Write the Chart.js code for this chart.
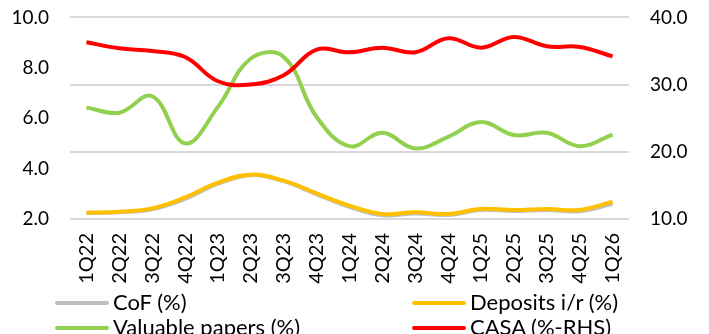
<!DOCTYPE html>
<html lang="en">
<head>
    <meta charset="UTF-8">
    <title>CoF, deposits, valuable papers and CASA</title>
    <script src="https://cdn.jsdelivr.net/npm/chart.js"></script>
    <style>
        body { margin: 0; background: #fff; font-family: 'Lato', sans-serif; }
        .wrap { position: relative; width: 709px; height: 334px; overflow: hidden; }
        #chart { position: absolute; left: 0; top: -15px; }
        .legend { position: absolute; left: 0; top: 289px; width: 709px; font-size: 22px; color: #000; }
        .item { position: absolute; height: 25px; line-height: 25px; white-space: nowrap; }
        .item span { display: inline-block; width: 54px; height: 4px; border-radius: 2px; vertical-align: middle; margin-right: 4px; position: relative; top: -1px; }
    </style>
</head>
<body>
<div class="wrap">
    <canvas id="chart" width="709" height="305"></canvas>
    <div class="legend" id="legend"></div>
</div>

<script>
    // dados
    const quarters = ["1Q22","2Q22","3Q22","4Q22","1Q23","2Q23","3Q23","4Q23","1Q24",
                      "2Q24","3Q24","4Q24","1Q25","2Q25","3Q25","4Q25","1Q26"];
    const cof      = [2.24, 2.27, 2.39, 2.80, 3.40, 3.74, 3.50, 2.98, 2.48, 2.15, 2.22, 2.16, 2.36, 2.32, 2.36, 2.31, 2.60];
    const deposits = [2.25, 2.29, 2.42, 2.86, 3.44, 3.76, 3.52, 3.02, 2.53, 2.20, 2.27, 2.20, 2.40, 2.36, 2.40, 2.36, 2.69];
    const papers   = [6.42, 6.22, 6.87, 5.00, 6.45, 8.37, 8.43, 6.05, 4.89, 5.42, 4.80, 5.26, 5.85, 5.33, 5.42, 4.89, 5.35];
    const casa     = [36.3, 35.4, 35.0, 34.1, 30.5, 30.0, 31.4, 35.2, 34.8, 35.5, 34.8, 36.9, 35.5, 37.1, 35.7, 35.6, 34.2];

    const leftTicks = [2, 4, 6, 8, 10];
    const rightTicks = [10, 20, 30, 40];

    const series = [
        { label: "CoF (%)", data: cof, color: "#BFBFBF", axis: "y", order: 3, x: 55, row: 0 },
        { label: "Deposits i/r (%)", data: deposits, color: "#FFC000", axis: "y", order: 2, x: 412, row: 0 },
        { label: "Valuable papers (%)", data: papers, color: "#92D050", axis: "y", order: 1, x: 55, row: 1 },
        { label: "CASA (%-RHS)", data: casa, color: "#FF0000", axis: "y1", order: 0, x: 412, row: 1 }
    ];

    const tickFont = { family: "Lato", size: 19 };

    new Chart(document.getElementById("chart"), {
        type: "line",
        data: {
            labels: quarters,
            datasets: series.map(s => ({
                label: s.label,
                data: s.data,
                yAxisID: s.axis,
                order: s.order,
                borderColor: s.color,
                backgroundColor: s.color,
                borderWidth: 4,
                pointRadius: 0,
                tension: 0.4,
                fill: false
            }))
        },
        options: {
            responsive: false,
            animation: false,
            layout: { padding: { top: 10, bottom: 0, left: 0, right: 0 } },
            plugins: { legend: { display: false }, tooltip: { enabled: false } },
            scales: {
                x: {
                    offset: true,
                    grid: { display: false, drawTicks: false },
                    border: { display: false },
                    ticks: { color: "#000", font: { family: "Lato", size: 20 }, minRotation: 90, maxRotation: 90, padding: 14, autoSkip: false },
                    afterFit: s => { s.height = 71; }
                },
                y: {
                    position: "left",
                    min: 2, max: 10,
                    afterBuildTicks: s => { s.ticks = leftTicks.map(v => ({ value: v })); },
                    grid: { display: false, drawTicks: false },
                    border: { display: false },
                    ticks: { color: "#000", font: tickFont, padding: 21, callback: v => v.toFixed(1) },
                    afterFit: s => { s.width = 70; }
                },
                y1: {
                    position: "right",
                    min: 10, max: 40,
                    afterBuildTicks: s => { s.ticks = rightTicks.map(v => ({ value: v })); },
                    grid: { color: "#D9D9D9", lineWidth: 2, drawTicks: false },
                    border: { display: false },
                    ticks: { color: "#000", font: tickFont, padding: 21, callback: v => v.toFixed(1) },
                    afterFit: s => { s.width = 80; }
                }
            }
        }
    });

    // legenda em duas colunas
    const legend = document.getElementById("legend");
    series.forEach(s => {
        const div = document.createElement("div");
        div.className = "item";
        div.style.left = s.x + "px";
        div.style.top = (s.row * 25) + "px";
        div.innerHTML = '<span style="background:' + s.color + '"></span>' + s.label;
        legend.appendChild(div);
    });
</script>
</body>
</html>
